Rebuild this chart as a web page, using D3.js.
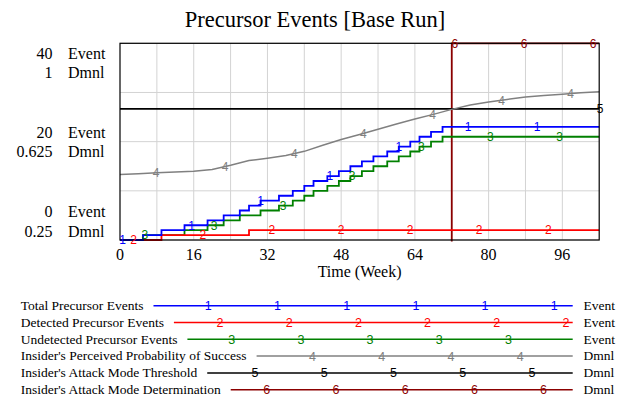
<!DOCTYPE html>
<html>
<head>
<meta charset="utf-8">
<script src="https://cdn.jsdelivr.net/npm/d3@7"></script>
<style>
  html, body { margin: 0; padding: 0; background: #fff; }
  svg { display: block; }
</style>
</head>
<body>
<div id="chart"></div>
<script>
// ---- data ----
const weekTicks = [0, 16, 32, 48, 64, 80, 96];
const weekGrid = [8, 16, 24, 32, 40, 48, 56, 64, 72, 80, 88, 96];
const eventTicks = [40, 20, 0];
const dmnlTicks = [1, 0.625, 0.25];
const dmnlTickLabels = ["1", "0.625", "0.25"];

// step series (week at which the count changes, value from then on)
const totalWeeks = [0, 5, 9, 14, 19, 22.5, 26, 28, 30.5, 34.5, 37.5, 40, 42, 45, 47.5, 50, 52.5, 55, 58, 60.5, 63, 65, 67.5, 70, 104];
const totalValues = [0, 1, 2, 3, 4, 5, 6, 7, 8, 9, 10, 11, 12, 13, 14, 15, 16, 17, 18, 19, 20, 21, 22, 23, 23];
const detectedWeeks = [0, 9, 28, 104];
const detectedValues = [0, 1, 2, 2];
const undetectedWeeks = [0, 5, 14, 19, 22.5, 26, 30.5, 34.5, 37.5, 40, 42, 45, 47.5, 50, 52.5, 55, 58, 60.5, 63, 65, 67.5, 70, 104];
const undetectedValues = [0, 1, 2, 3, 4, 5, 6, 7, 8, 9, 10, 11, 12, 13, 14, 15, 16, 17, 18, 19, 20, 21, 21];
const probWeeks = [0, 4, 8, 12, 16, 20, 24, 28, 32, 36, 40, 44, 48, 52, 56, 60, 64, 68, 72, 76, 80, 84, 88, 92, 96, 100, 104];
const probValues = [0.500, 0.503, 0.506, 0.509, 0.512, 0.519, 0.535, 0.553, 0.562, 0.572, 0.588, 0.611, 0.633, 0.652, 0.672, 0.692, 0.711, 0.729, 0.748, 0.765, 0.776, 0.786, 0.795, 0.801, 0.806, 0.811, 0.815];
const thresholdWeeks = [0, 104];
const thresholdValues = [0.75, 0.75];
const modeWeeks = [0, 72, 104];
const modeValues = [0, 1, 1];

const seriesNames = [
    "Total Precursor Events",
    "Detected Precursor Events",
    "Undetected Precursor Events",
    "Insider's Perceived Probability of Success",
    "Insider's Attack Mode Threshold",
    "Insider's Attack Mode Determination"
];
const seriesUnits = ["Event", "Event", "Event", "Dmnl", "Dmnl", "Dmnl"];
const seriesColors = ["#0000ff", "#ff0000", "#008000", "#808080", "#000000", "#8b0000"];

const series = [
    { weeks: totalWeeks, values: totalValues, axis: "event", step: true },
    { weeks: detectedWeeks, values: detectedValues, axis: "event", step: true },
    { weeks: undetectedWeeks, values: undetectedValues, axis: "event", step: true },
    { weeks: probWeeks, values: probValues, axis: "dmnl", step: false },
    { weeks: thresholdWeeks, values: thresholdValues, axis: "dmnl", step: false, endLabel: true },
    { weeks: modeWeeks, values: modeValues, axis: "dmnl", step: true }
];

// ---- layout ----
const width = 621, height = 398;
const plot = { left: 120, right: 599.2, top: 43.3, bottom: 240 };
const serif = "'Liberation Serif', 'Times New Roman', serif";
const sans = "'Liberation Sans', Arial, sans-serif";

const svg = d3.select("#chart").append("svg")
    .attr("width", width)
    .attr("height", height)
    .style("background", "#fff");

const x = d3.scaleLinear().domain([0, 104]).range([plot.left, plot.right]);
const yEvent = d3.scaleLinear().domain([0, 40]).range([plot.bottom, plot.top]);
const yDmnl = d3.scaleLinear().domain([0.25, 1]).range([plot.bottom, plot.top]);
const yFor = s => s.axis === "event" ? yEvent : yDmnl;

// title
svg.append("text")
    .attr("x", 315)
    .attr("y", 26.5)
    .attr("text-anchor", "middle")
    .attr("font-family", serif)
    .attr("font-size", 22.5)
    .text("Precursor Events [Base Run]");

// grid
const grid = svg.append("g").attr("stroke", "#d3d3d3").attr("stroke-width", 1);
weekGrid.forEach(w => {
    grid.append("line")
        .attr("x1", x(w)).attr("x2", x(w))
        .attr("y1", plot.top).attr("y2", plot.bottom);
});
yEvent.ticks(4).forEach(v => {
    grid.append("line")
        .attr("x1", plot.left).attr("x2", plot.right)
        .attr("y1", yEvent(v)).attr("y2", yEvent(v));
});

// clip
svg.append("clipPath").attr("id", "plotClip")
    .append("rect")
    .attr("x", plot.left - 1.5)
    .attr("y", plot.top - 1.5)
    .attr("width", plot.right - plot.left + 3)
    .attr("height", plot.bottom - plot.top + 3);

// lines, drawn last-to-first so series 1 ends on top
const linesG = svg.append("g").attr("clip-path", "url(#plotClip)");
for (let i = series.length - 1; i >= 0; i--) {
    const s = series[i];
    const yS = yFor(s);
    const line = d3.line()
        .x(d => x(d[0]))
        .y(d => yS(d[1]))
        .curve(s.step ? d3.curveStepAfter : d3.curveLinear);
    linesG.append("path")
        .datum(d3.zip(s.weeks, s.values))
        .attr("d", line)
        .attr("fill", "none")
        .attr("stroke", seriesColors[i])
        .attr("stroke-width", i === 3 ? 1.5 : 1.8);
}

// border
svg.append("rect")
    .attr("x", plot.left).attr("y", plot.top)
    .attr("width", plot.right - plot.left)
    .attr("height", plot.bottom - plot.top)
    .attr("fill", "none")
    .attr("stroke", "#000")
    .attr("stroke-width", 1.2);

// value of a series at a given week
function valueAt(s, w) {
    if (s.step) {
        let v = s.values[0];
        s.weeks.forEach((wk, j) => { if (wk <= w) v = s.values[j]; });
        return v;
    }
    for (let j = 1; j < s.weeks.length; j++) {
        if (w <= s.weeks[j]) {
            const t = (w - s.weeks[j - 1]) / (s.weeks[j] - s.weeks[j - 1]);
            return s.values[j - 1] + t * (s.values[j] - s.values[j - 1]);
        }
    }
    return s.values[s.values.length - 1];
}

// series number labels along the lines
const labelsG = svg.append("g")
    .attr("font-family", sans)
    .attr("font-size", 12)
    .attr("text-anchor", "middle");
series.forEach((s, i) => {
    const yS = yFor(s);
    const put = (px, py) => labelsG.append("text")
        .attr("x", px).attr("y", py).attr("dy", "0.36em")
        .attr("fill", seriesColors[i])
        .text(i + 1);
    if (s.endLabel) {
        put(plot.right + 1, yS(valueAt(s, 104)));
        return;
    }
    for (let px = 122.5 + i * 11.2; px <= plot.right; px += 69.1) {
        const py = yS(valueAt(s, x.invert(px)));
        if (py < plot.top - 2 || py > plot.bottom + 2) continue;
        put(px, py);
    }
});

// y axis labels (two unit rows per tick)
const axisG = svg.append("g").attr("font-family", serif).attr("font-size", 16);
const rowShift = [[16, 35], [-3.5, 15.5], [-23, -3]];
eventTicks.forEach((v, k) => {
    const ty = yEvent(v);
    const [dEvent, dDmnl] = rowShift[k];
    axisG.append("text").attr("x", 52.5).attr("y", ty + dEvent).attr("text-anchor", "end").text(v);
    axisG.append("text").attr("x", 68).attr("y", ty + dEvent).text("Event");
    axisG.append("text").attr("x", 52.5).attr("y", yDmnl(dmnlTicks[k]) + dDmnl).attr("text-anchor", "end").text(dmnlTickLabels[k]);
    axisG.append("text").attr("x", 68).attr("y", yDmnl(dmnlTicks[k]) + dDmnl).text("Dmnl");
});

// x axis labels
weekTicks.forEach(w => {
    axisG.append("text")
        .attr("x", x(w)).attr("y", 260)
        .attr("text-anchor", "middle")
        .text(w);
});
axisG.append("text")
    .attr("x", (plot.left + plot.right) / 2)
    .attr("y", 277)
    .attr("text-anchor", "middle")
    .text("Time (Week)");

// legend
const legend = svg.append("g").attr("font-family", serif).attr("font-size", 13.5);
const legendLineEnd = 572.7;
seriesNames.forEach((name, i) => {
    const by = 310 + i * 16.8;
    const ly = by - 4.3;
    const label = legend.append("text").attr("x", 20.7).attr("y", by).text(name);
    const start = 20.7 + label.node().getComputedTextLength() + 10;
    legend.append("line")
        .attr("x1", start).attr("x2", legendLineEnd)
        .attr("y1", ly).attr("y2", ly)
        .attr("stroke", seriesColors[i])
        .attr("stroke-width", 1.5);
    for (let px = 208.3 + i * 11.7; px <= legendLineEnd - 5; px += 69.2) {
        if (px < start + 4) continue;
        legend.append("text")
            .attr("x", px).attr("y", ly).attr("dy", "0.36em")
            .attr("text-anchor", "middle")
            .attr("font-family", sans)
            .attr("font-size", 12.5)
            .attr("fill", seriesColors[i])
            .text(i + 1);
    }
    legend.append("text").attr("x", 583.5).attr("y", by).text(seriesUnits[i]);
});
</script>
</body>
</html>
